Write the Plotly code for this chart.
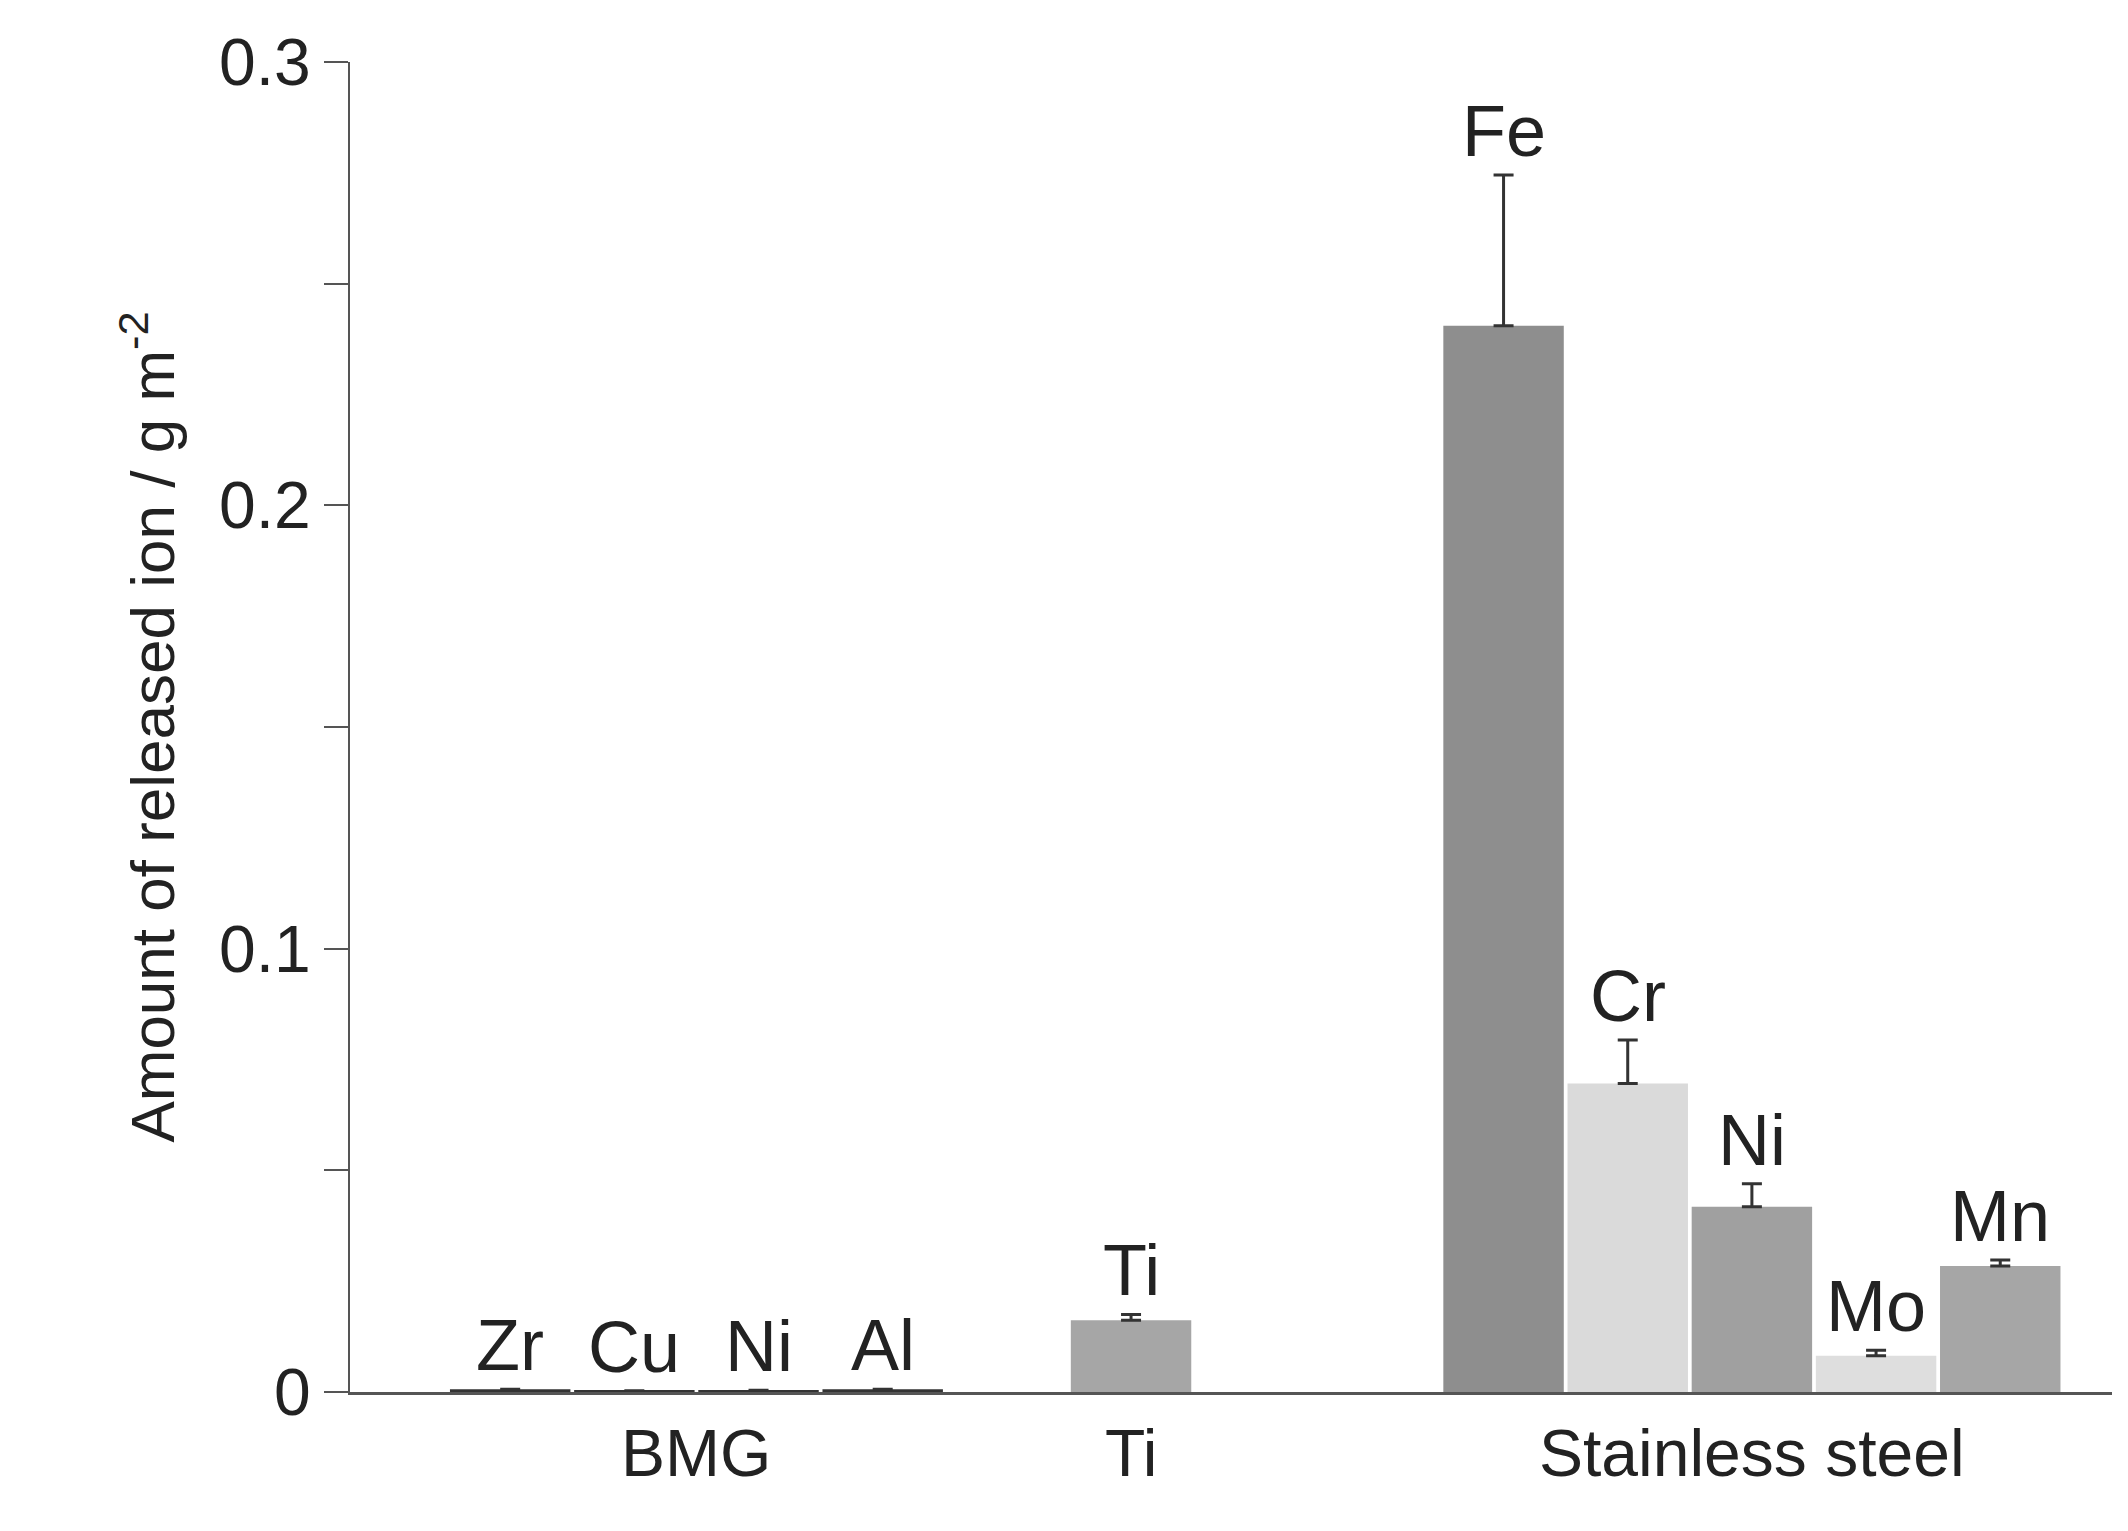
import plotly.graph_objects as go

elements = ["Zr", "Cu", "Ni", "Al", "Ti", "Fe", "Cr", "Ni", "Mo", "Mn"]
positions = [0, 1, 2, 3, 5, 8, 9, 10, 11, 12]
values = [0.0006, 0.0003, 0.0004, 0.0006, 0.0162, 0.2405, 0.0696, 0.0418, 0.0082, 0.0284]
errors = [0, 0, 0, 0, 0.0013, 0.034, 0.0098, 0.0052, 0.0012, 0.0014]
colors = ["#333333", "#333333", "#333333", "#333333", "#a6a6a6",
          "#8e8e8e", "#dadada", "#a0a0a0", "#dedede", "#a6a6a6"]
groups = ["BMG", "Ti", "Stainless steel"]
group_pos = [1.5, 5, 10]

fig = go.Figure()
fig.add_trace(go.Bar(
    x=positions, y=values, width=0.97, marker=dict(color=colors, line=dict(width=0)),
    error_y=dict(type="data", array=errors, arrayminus=[0]*len(errors), symmetric=False,
                 color="#333333", thickness=3, width=10, visible=True),
    showlegend=False))

for p, v, e, name in zip(positions, values, errors, elements):
    fig.add_annotation(x=p, y=v + e, text=name, showarrow=False, yanchor="bottom",
                       yshift=2, font=dict(size=72, color="#222222"))
for p, g in zip(group_pos, groups):
    fig.add_annotation(x=p, y=0, text=g, showarrow=False, yanchor="top", yshift=-22,
                       font=dict(size=66, color="#222222"))

fig.update_layout(
    width=2128, height=1531, plot_bgcolor="white", paper_bgcolor="white",
    margin=dict(l=342, r=24, t=54, b=147),
    font=dict(family="Liberation Sans, Arial", color="#222222"),
    xaxis=dict(range=[-1.29, 12.9], showticklabels=False, ticks="", showgrid=False,
               zeroline=False, showline=True, linecolor="#555555", linewidth=3),
    yaxis=dict(range=[0, 0.3], tickvals=[0, 0.05, 0.1, 0.15, 0.2, 0.25, 0.3],
               ticktext=["0", "", "0.1", "", "0.2", "", "0.3"],
               ticks="outside", ticklen=24, tickwidth=2, tickcolor="#555555",
               tickfont=dict(size=66), showgrid=False, zeroline=False,
               showline=True, linecolor="#555555", linewidth=2,
               title=dict(text="Amount of released ion / g m<sup>-2</sup>",
                          font=dict(size=62), standoff=24)),
)
fig.write_html("out.html")
